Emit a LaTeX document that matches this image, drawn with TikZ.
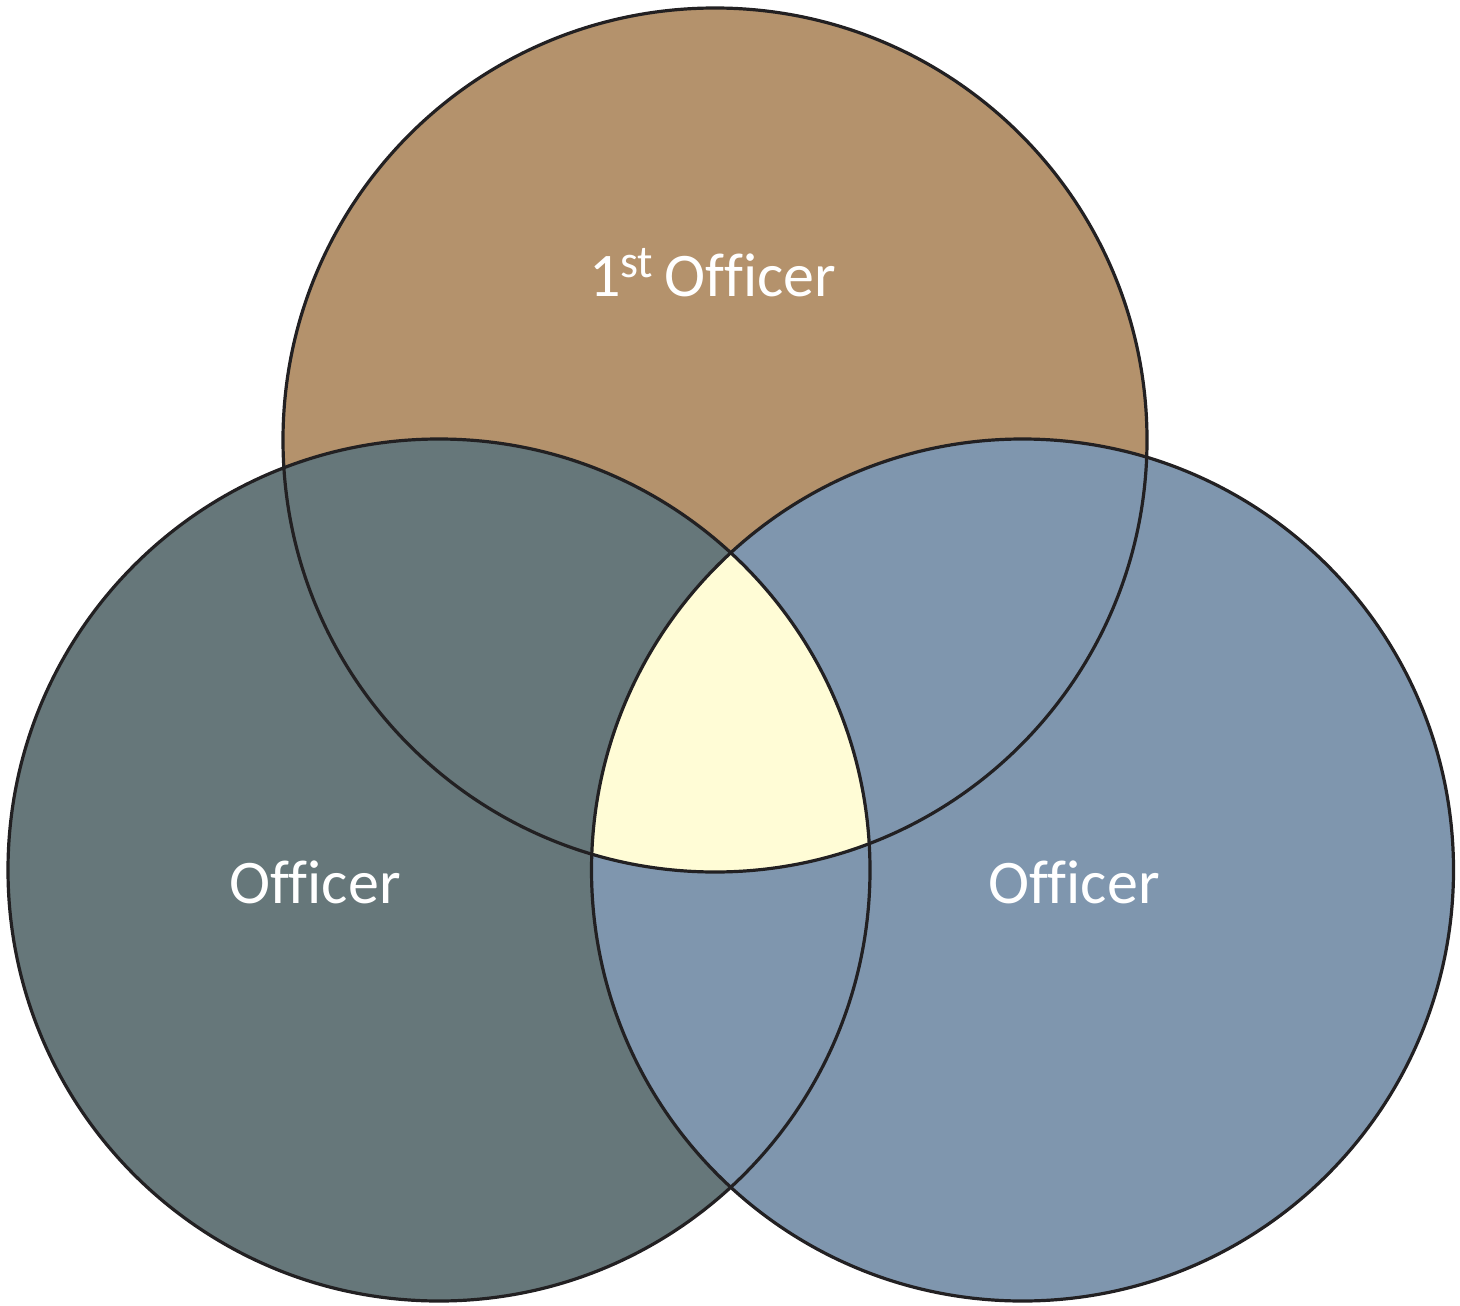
\documentclass[tikz,border=0pt]{standalone}
\usepackage{fontspec}
\setmainfont{Carlito}[Ligatures=NoCommon]
\definecolor{topbrown}{RGB}{180,146,108}
\definecolor{leftslate}{RGB}{102,119,122}
\definecolor{rightblue}{RGB}{127,150,174}
\definecolor{centeryellow}{RGB}{255,252,214}
\definecolor{edge}{RGB}{34,32,34}
\tikzset{
  ring/.style={draw=edge, line width=1.6pt},
  label/.style={text=white, font=\fontsize{31}{37}\selectfont, anchor=base, inner sep=0pt}
}
\begin{document}
\begin{tikzpicture}[x=0.5pt,y=-0.5pt]
\useasboundingbox (0,0) rectangle (1460,1305);
% fills
\fill[topbrown] (715,440) circle[radius=432];
\fill[leftslate] (439,870) circle[radius=431];
\fill[rightblue] (1022.5,870) circle[radius=431];
\begin{scope}
  \clip (439,870) circle[radius=431];
  \clip (1022.5,870) circle[radius=431];
  \fill[centeryellow] (715,440) circle[radius=432];
\end{scope}
% outlines
\draw[ring] (715,440) circle[radius=432];
\draw[ring] (439,870) circle[radius=431];
\draw[ring] (1022.5,870) circle[radius=431];
% labels
\node[label] (t) at (712.5,296) {1\textsuperscript{\fontsize{23}{27}\selectfont st}\,Officer};
\node[label] (l) at (315,903) {Officer};
\node[label] (r) at (1074,903) {Officer};
\end{tikzpicture}
\end{document}
